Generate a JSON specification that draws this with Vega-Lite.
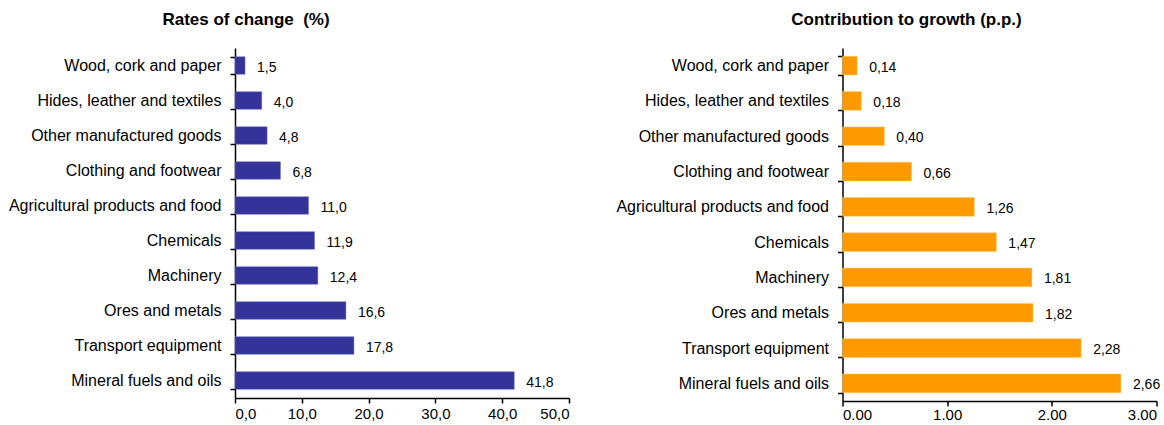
{
  "$schema": "https://vega.github.io/schema/vega-lite/v6.json",
  "background": "white",
  "padding": {"left": 8, "top": 11, "right": 0, "bottom": 0},
  "spacing": 273.5,
  "bounds": "flush",
  "data": {
    "values": [
      {"category": "Wood, cork and paper", "rate": 1.5, "contrib": 0.14},
      {"category": "Hides, leather and textiles", "rate": 4.0, "contrib": 0.18},
      {"category": "Other manufactured goods", "rate": 4.8, "contrib": 0.40},
      {"category": "Clothing and footwear", "rate": 6.8, "contrib": 0.66},
      {"category": "Agricultural products and food", "rate": 11.0, "contrib": 1.26},
      {"category": "Chemicals", "rate": 11.9, "contrib": 1.47},
      {"category": "Machinery", "rate": 12.4, "contrib": 1.81},
      {"category": "Ores and metals ", "rate": 16.6, "contrib": 1.82},
      {"category": "Transport equipment", "rate": 17.8, "contrib": 2.28},
      {"category": "Mineral fuels and oils", "rate": 41.8, "contrib": 2.66}
    ]
  },
  "hconcat": [
    {
      "width": 334,
      "height": 350,
      "title": {"text": "Rates of change\u00a0 (%)", "dx": -156, "offset": 11},
      "encoding": {
        "y": {
          "field": "category", "type": "nominal", "sort": null, "title": null,
          "scale": {"paddingInner": 0.5, "paddingOuter": 0.25},
          "axis": {"tickBand": "extent", "tickSize": 5, "labelPadding": 9, "labelFontSize": 16, "labelLimit": 400}
        },
        "x": {
          "field": "rate", "type": "quantitative", "title": null,
          "scale": {"domain": [0, 50], "nice": false},
          "axis": {"values": [0, 10, 20, 30, 40, 50], "format": ".1f", "tickSize": 5, "labelPadding": 3}
        }
      },
      "layer": [
        {"mark": {"type": "bar", "color": "#333399", "stroke": "#6666cc", "strokeWidth": 0.5}},
        {
          "mark": {"type": "text", "align": "left", "baseline": "middle", "dx": 12, "dy": 2, "fontSize": 14, "font": "Liberation Sans", "color": "#000"},
          "encoding": {"text": {"field": "rate", "type": "quantitative", "format": ".1f"}}
        }
      ]
    },
    {
      "width": 314,
      "height": 353,
      "title": {"text": "Contribution to growth (p.p.)", "dx": -93, "offset": 11},
      "encoding": {
        "y": {
          "field": "category", "type": "nominal", "sort": null, "title": null,
          "scale": {"paddingInner": 0.47, "paddingOuter": 0.235},
          "axis": {"tickBand": "extent", "tickSize": 5, "labelPadding": 9, "labelFontSize": 16, "labelLimit": 400}
        },
        "x": {
          "field": "contrib", "type": "quantitative", "title": null,
          "scale": {"domain": [0, 3], "nice": false},
          "axis": {"values": [0, 1, 2, 3], "format": ".2f", "labelExpr": "replace(datum.label, ',', '.')", "tickSize": 5, "labelPadding": 1}
        }
      },
      "layer": [
        {"mark": {"type": "bar", "color": "#ff9900", "stroke": "#ffcc66", "strokeWidth": 0.5}},
        {
          "mark": {"type": "text", "align": "left", "baseline": "middle", "dx": 12, "dy": 2, "fontSize": 14, "font": "Liberation Sans", "color": "#000"},
          "encoding": {"text": {"field": "contrib", "type": "quantitative", "format": ".2f"}}
        }
      ]
    }
  ],
  "config": {
    "locale": {"number": {"decimal": ",", "thousands": ".", "grouping": [3], "currency": ["", " €"]}},
    "view": {"stroke": null},
    "font": "Liberation Sans",
    "title": {"font": "Liberation Sans", "fontSize": 17, "fontWeight": "bold", "color": "#000", "anchor": "middle"},
    "axis": {
      "grid": false,
      "domainColor": "#000",
      "domainWidth": 1.5,
      "tickColor": "#000",
      "tickWidth": 1.5,
      "labelColor": "#000",
      "labelFont": "Liberation Sans",
      "labelFontSize": 15
    }
  }
}
